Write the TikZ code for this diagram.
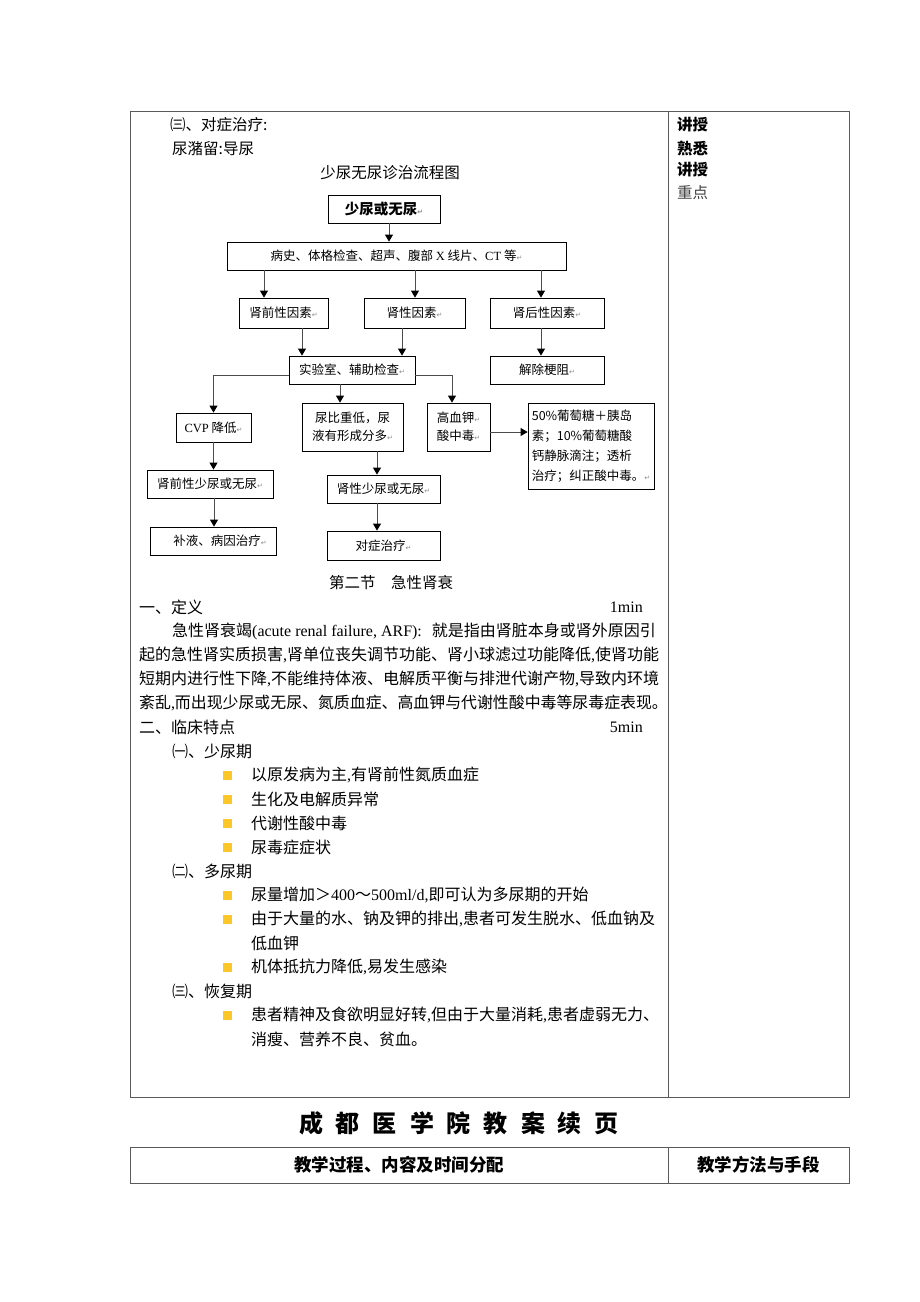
\documentclass[tikz,border=0pt]{standalone}
\usepackage{fontspec}
\setmainfont{Liberation Serif}
\newfontfamily\cjk{Noto Sans CJK SC}
\newfontfamily\symf{DejaVu Sans}
\usetikzlibrary{arrows.meta,positioning}
\definecolor{rulegray}{HTML}{5A5A5A}
\definecolor{bulletyellow}{HTML}{FFC62A}
\newcommand\pmk{{\symf\fontsize{7}{7}\selectfont\color{black!45}↵}}
\newcommand\en[1]{{\rmfamily #1}}

\begin{document}
\begin{tikzpicture}[x=1pt,y=-1pt,
    fbox/.style={draw, line width=0.8pt, inner sep=1pt, align=center,
      font=\cjk\fontsize{12.5}{18}\selectfont},
    farrow/.style={draw=black!70, line width=0.8pt,
      -{Triangle[length=7pt,width=8pt,color=black]}},
    body/.style={anchor=west, inner sep=0pt, font=\cjk\fontsize{16}{18}\selectfont},
    head/.style={inner sep=0pt, font=\cjk\bfseries\fontsize{17.5}{20}\selectfont}]
  \fill[white] (0,0) rectangle (920,1302);
  \useasboundingbox (0,0) rectangle (920,1302);

  % table frame
  \draw[rulegray, line width=1pt] (130,111) rectangle (849,1097);
  \draw[rulegray, line width=1pt] (668,111) -- (668,1097);

  % right column
  \node[body, font=\cjk\bfseries\fontsize{15.5}{18}\selectfont] (m1) at (677,125) {讲授};
  \node[body, font=\cjk\bfseries\fontsize{15.5}{18}\selectfont] (m2) at (677,148) {熟悉};
  \node[body, font=\cjk\bfseries\fontsize{15.5}{18}\selectfont] (m3) at (677,170) {讲授};
  \node[body, text=black!75, font=\cjk\fontsize{15.5}{18}\selectfont] (m4) at (677,193) {重点};

  % heading lines
  \node[body, font=\cjk\fontsize{15.5}{18}\selectfont] (h3) at (170,125) {㈢、对症治疗:};
  \node[body, font=\cjk\fontsize{15.5}{18}\selectfont] (uret) at (172,149) {尿潴留:导尿};
  \node[body, anchor=center, font=\cjk\fontsize{15.5}{18}\selectfont] (ftitle) at (390,173) {少尿无尿诊治流程图};

  % flow chart
  \node[fbox, minimum width=112pt, minimum height=28pt,
        font=\cjk\bfseries\fontsize{14.5}{18}\selectfont] (start) at (384,209) {少尿或无尿\pmk};
  \node[fbox, minimum width=339pt, minimum height=28pt] (exam) at (396.5,256)
    {病史、体格检查、超声、腹部 \en{X} 线片、\en{CT} 等\pmk};
  \node[fbox, minimum width=89pt, minimum height=30pt] (pre) at (283.5,313) {肾前性因素\pmk};
  \node[fbox, minimum width=101pt, minimum height=30pt] (ren) at (414.5,313) {肾性因素\pmk};
  \node[fbox, minimum width=114pt, minimum height=30pt] (post) at (547,313) {肾后性因素\pmk};
  \node[fbox, minimum width=126pt, minimum height=28pt] (lab) at (352,370) {实验室、辅助检查\pmk};
  \node[fbox, minimum width=114pt, minimum height=28pt] (relief) at (547,370) {解除梗阻\pmk};
  \node[fbox, minimum width=75pt, minimum height=29pt] (cvp) at (213.5,427.5) {\en{CVP} 降低\pmk};
  \node[fbox, minimum width=101pt, minimum height=48pt] (urine) at (352.5,427) {尿比重低，尿\\液有形成分多\pmk};
  \node[fbox, minimum width=63pt, minimum height=48pt, align=left] (hyk) at (458.5,427) {高血钾\pmk\\酸中毒\pmk};
  \node[fbox, minimum width=126pt, minimum height=86pt, align=left,
        font=\cjk\fontsize{12.5}{20}\selectfont] (treat) at (591,446)
    {50\%葡萄糖＋胰岛\\素；10\%葡萄糖酸\\钙静脉滴注；透析\\治疗；纠正酸中毒。\pmk};
  \node[fbox, minimum width=126pt, minimum height=28pt] (preol) at (210,484) {肾前性少尿或无尿\pmk};
  \node[fbox, minimum width=126pt, minimum height=28pt] (fluid) at (213,541) {\hspace*{14pt}补液、病因治疗\pmk};
  \node[fbox, minimum width=113pt, minimum height=28pt] (renol) at (383.5,489) {肾性少尿或无尿\pmk};
  \node[fbox, minimum width=113pt, minimum height=29pt] (symp) at (383.5,545.5) {对症治疗\pmk};

  \draw[farrow] ([xshift=5pt]start.south) -- ([xshift=5pt]start.south |- exam.north);
  \draw[farrow] ([xshift=-132.5pt]exam.south) -- ([xshift=-132.5pt]exam.south |- pre.north);
  \draw[farrow] ([xshift=18.5pt]exam.south) -- ([xshift=18.5pt]exam.south |- ren.north);
  \draw[farrow] ([xshift=144.5pt]exam.south) -- ([xshift=144.5pt]exam.south |- post.north);
  \draw[farrow] ([xshift=18.5pt]pre.south) -- ([xshift=18.5pt]pre.south |- lab.north);
  \draw[farrow] ([xshift=-12.5pt]ren.south) -- ([xshift=-12.5pt]ren.south |- lab.north);
  \draw[farrow] ([xshift=-6pt]post.south) -- ([xshift=-6pt]post.south |- relief.north);
  \draw[farrow] ([yshift=-5pt]lab.west) -| (cvp.north);
  \draw[farrow] ([xshift=-12pt]lab.south) -- ([xshift=-12pt]lab.south |- urine.north);
  \draw[farrow] ([yshift=-5pt]lab.east) -| ([xshift=-6.5pt]hyk.north);
  \draw[farrow] ([yshift=-5pt]hyk.east) -- ([yshift=-5pt]hyk.east -| treat.west);
  \draw[farrow] (cvp.south) -- (cvp.south |- preol.north);
  \draw[farrow] ([xshift=4pt]preol.south) -- ([xshift=4pt]preol.south |- fluid.north);
  \draw[farrow] ([xshift=24.5pt]urine.south) -- ([xshift=24.5pt]urine.south |- renol.north);
  \draw[farrow] ([xshift=-6.5pt]renol.south) -- ([xshift=-6.5pt]renol.south |- symp.north);

  % section 2
  \node[body, anchor=center, font=\cjk\fontsize{15.5}{18}\selectfont] (sec) at (391,583) {第二节　急性肾衰};
  \node[body] (def) at (139,607) {一、定义};
  \node[body, anchor=east] (t1) at (643,607) {\en{1min}};
  \node[body] (p1) at (172,631) {急性肾衰竭\en{(acute renal failure, ARF):}\hspace{10pt}就是指由肾脏本身或肾外原因引};
  \node[body] (p2) at (139,655) {起的急性肾实质损害\en{,}肾单位丧失调节功能、肾小球滤过功能降低\en{,}使肾功能};
  \node[body] (p3) at (139,679) {短期内进行性下降\en{,}不能维持体液、电解质平衡与排泄代谢产物\en{,}导致内环境};
  \node[body, font=\cjk\fontsize{15.9}{18}\selectfont] (p4) at (139,703) {紊乱\en{,}而出现少尿或无尿、氮质血症、高血钾与代谢性酸中毒等尿毒症表现。};
  \node[body] (clin) at (139,727) {二、临床特点};
  \node[body, anchor=east] (t2) at (643,727) {\en{5min}};
  \node[body] (ph1) at (172,751) {㈠、少尿期};
  \node[body] (b1) at (251,775) {以原发病为主\en{,}有肾前性氮质血症};
  \node[body] (b2) at (251,799) {生化及电解质异常};
  \node[body] (b3) at (251,823) {代谢性酸中毒};
  \node[body] (b4) at (251,847) {尿毒症症状};
  \node[body] (ph2) at (172,871) {㈡、多尿期};
  \node[body] (b5) at (251,895) {尿量增加＞\en{400}～\en{500ml/d,}即可认为多尿期的开始};
  \node[body] (b6) at (251,919) {由于大量的水、钠及钾的排出\en{,}患者可发生脱水、低血钠及};
  \node[body] (b6b) at (251,943) {低血钾};
  \node[body] (b7) at (251,967) {机体抵抗力降低\en{,}易发生感染};
  \node[body] (ph3) at (172,991) {㈢、恢复期};
  \node[body] (b8) at (251,1015) {患者精神及食欲明显好转\en{,}但由于大量消耗\en{,}患者虚弱无力、};
  \node[body] (b8b) at (251,1039) {消瘦、营养不良、贫血。};
  \foreach \y in {775,799,823,847,895,919,967,1015}
    \fill[bulletyellow] (223,\y-4.5) rectangle (232,\y+4.5);

  % page title and header row
  \node[inner sep=0pt, font=\cjk\bfseries\fontsize{24}{28}\selectfont] (title) at (459,1123)
    {成\hspace{13pt}都\hspace{13pt}医\hspace{13pt}学\hspace{13pt}院\hspace{13pt}教\hspace{13pt}案\hspace{13pt}续\hspace{13pt}页};
  \draw[rulegray, line width=1pt] (130,1147) rectangle (849,1183);
  \draw[rulegray, line width=1pt] (668,1147) -- (668,1183);
  \node[head] (hcol1) at (399,1165) {教学过程、内容及时间分配};
  \node[head] (hcol2) at (758.5,1165) {教学方法与手段};
\end{tikzpicture}
\end{document}
